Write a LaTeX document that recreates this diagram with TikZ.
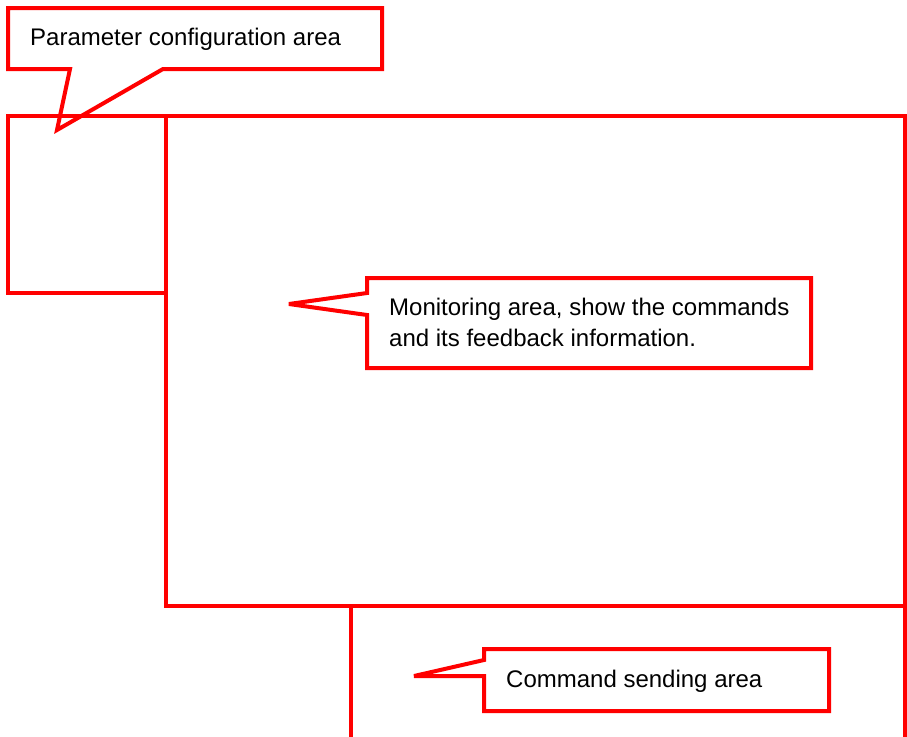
\documentclass[tikz,border=0pt]{standalone}
\usepackage{fontspec}
\setmainfont{Liberation Sans}
\definecolor{areared}{RGB}{255,0,0}
\tikzset{
  region/.style={draw=areared, line width=4pt, line join=miter, miter limit=4},
  calloutline/.style={draw=areared, line width=4pt, line join=miter, miter limit=4},
  areatext/.style={font=\fontsize{24}{29}\selectfont, inner sep=0pt, anchor=base west, text=black}
}
\begin{document}
\begin{tikzpicture}[x=1pt,y=-1pt]
\useasboundingbox (0,0) rectangle (907,736);
\begin{scope}
\clip (0,0) rectangle (907,736);
% regions
\draw[region] (8,116) rectangle (166,293);
\draw[region] (166,116) rectangle (905,606);
\draw[region] (351,606) rectangle (905,760);
\end{scope}
% callout: parameter configuration
\draw[calloutline] (8,8) -- (382,8) -- (382,69) -- (163,69) -- (57,130) -- (70,69) -- (8,69) -- cycle;
\node[areatext] (param) at (30,45) {Parameter configuration area};
% callout: monitoring
\draw[calloutline] (367,278) -- (811,278) -- (811,368) -- (367,368) -- (367,315) -- (289,304) -- (367,293) -- cycle;
\node[areatext] (mon1) at (389,315) {Monitoring area, show the commands};
\node[areatext] (mon2) at (389,346) {and its feedback information.};
% callout: command sending
\draw[calloutline] (484,649) -- (829,649) -- (829,711) -- (484,711) -- (484,676) -- (414,676) -- (484,660) -- cycle;
\node[areatext] (cmd) at (506,687) {Command sending area};
\end{tikzpicture}
\end{document}
